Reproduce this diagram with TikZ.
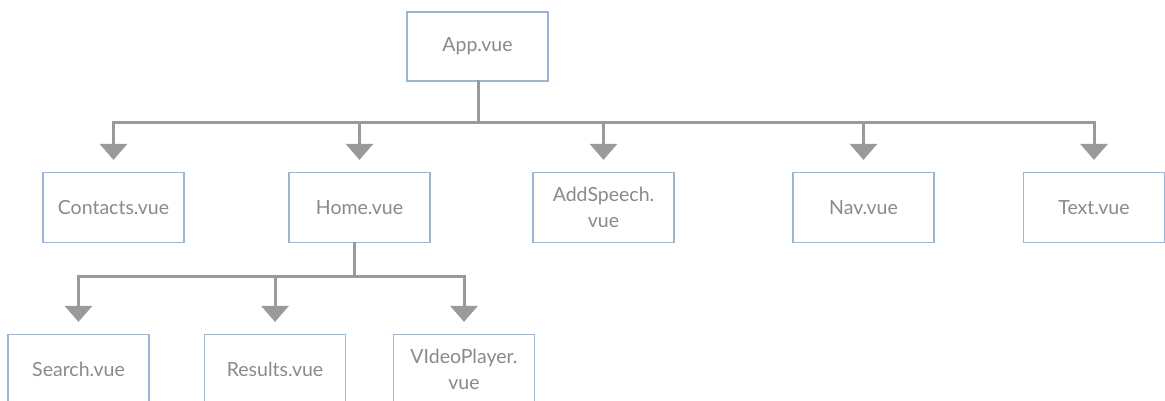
\documentclass[tikz,border=0pt]{standalone}
\usepackage{fontspec}
\setmainfont{Lato}
\usetikzlibrary{arrows.meta}
\definecolor{boxline}{HTML}{9DB6CF}
\definecolor{linkgray}{HTML}{9A9A9A}
\definecolor{labelgray}{HTML}{8A8A8A}
\tikzset{
  comp/.style={draw=boxline, line width=1.2pt, fill=white, minimum width=141pt,
    minimum height=70pt, inner sep=0pt, align=center, text=labelgray,
    font=\fontsize{19.5}{26}\selectfont},
  link/.style={draw=linkgray, line width=3pt, line cap=rect},
  drop/.style={draw=linkgray, line width=3pt,
    -{Triangle[width=27pt,length=16pt]}, shorten >=12pt}
}
\begin{document}
\begin{tikzpicture}[x=1pt,y=-1pt]
\useasboundingbox (0,0) rectangle (1165,401);
\clip (0,0) rectangle (1165,401);

% components
\node[comp, minimum height=69pt] (app) at (477.5,46.5) {App.vue};
\node[comp] (contacts) at (113.5,207.5) {Contacts.vue};
\node[comp] (home) at (359.5,207.5) {Home.vue};
\node[comp] (addspeech) at (603.5,207.5) {AddSpeech.\\vue};
\node[comp] (nav) at (863.5,207.5) {Nav.vue};
\node[comp] (text) at (1094,207.5) {Text.vue};
\node[comp] (search) at (78.5,369.5) {Search.vue};
\node[comp] (results) at (275,369.5) {Results.vue};
\node[comp] (video) at (464,369.5) {VIdeoPlayer.\\vue};

% junctions
\coordinate (appbus) at (478,123);
\coordinate (homebus) at (354,276);
\coordinate (homeout) at (354,243);

% App.vue to its children
\draw[link] (app.south -| appbus) -- (appbus);
\draw[link] (contacts.north |- appbus) -- (text.north |- appbus);
\foreach \n in {contacts,home,addspeech,nav,text}
  \draw[drop] (\n.north |- appbus) -- (\n.north);

% Home.vue to its children
\draw[link] (homeout) -- (homebus);
\draw[link] (search.north |- homebus) -- (video.north |- homebus);
\foreach \n in {search,results,video}
  \draw[drop] (\n.north |- homebus) -- (\n.north);
\end{tikzpicture}
\end{document}
